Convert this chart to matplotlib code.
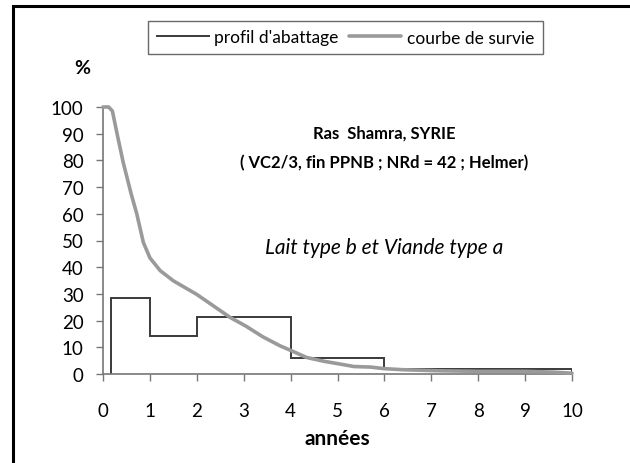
import numpy as np
import matplotlib.pyplot as plt
from matplotlib.patches import Rectangle

plt.rcParams['font.family'] = ['Lato', 'DejaVu Sans']

# profil d'abattage (classes d'âge en années, % par classe)
age_edges = [0.17, 1, 2, 4, 6, 10]
abattage = [28.6, 14.3, 21.4, 6.0, 2.0]

# courbe de survie
survie_x = [0, 0.12, 0.2, 0.3, 0.43, 0.6, 0.72, 0.86, 1.0, 1.22, 1.5, 2.0, 2.71,
            3.06, 3.4, 3.77, 4.02, 4.34, 4.7, 5.03, 5.35, 5.7, 6.0, 6.4, 7.2,
            8.0, 9.0, 9.6, 10]
survie_y = [100, 100, 98.5, 90, 79.3, 67.5, 60, 49.3, 43.5, 38.7, 34.9, 29.8, 21.2,
            17.8, 14.0, 10.6, 8.7, 6.2, 4.8, 3.8, 2.8, 2.6, 2.0, 1.6, 1.2,
            1.0, 1.0, 0.7, 0.3]

xticks = list(range(0, 11))
yticks = list(range(0, 101, 10))

fig = plt.figure(figsize=(6.3, 4.64), dpi=100)
ax = fig.add_axes([103 / 630, 1 - 375 / 464, 469 / 630, 267 / 464])

# histogramme en escalier
ax.stairs(abattage, age_edges, baseline=0, color='#3a3a3a', lw=1.4,
          label="profil d'abattage", zorder=2)
# courbe de survie
ax.plot(survie_x, survie_y, color='#9a9a9a', lw=2.6, solid_capstyle='round',
        label='courbe de survie', zorder=3, clip_on=False)

ax.set_xlim(0, 10)
ax.set_ylim(0, 100)
ax.set_xticks(xticks)
ax.set_yticks(yticks)
ax.tick_params(direction='out', length=5, width=1, color='#777777',
               labelsize=13.5, labelcolor='black')
ax.tick_params(axis='x', pad=15)
ax.tick_params(axis='y', pad=9)
for s in ['top', 'right']:
    ax.spines[s].set_visible(False)
for s in ['left', 'bottom']:
    ax.spines[s].set_color('#777777')
    ax.spines[s].set_linewidth(1.2)

ax.set_xlabel('années', fontsize=15, fontweight='bold', labelpad=7)

# annotations
ax.text(6.0, 90.6, 'Ras  Shamra, SYRIE', ha='center', va='center',
        fontsize=12, fontweight='bold')
ax.text(6.0, 79.4, '( VC2/3, fin PPNB ; NRd = 42 ; Helmer)', ha='center',
        va='center', fontsize=12, fontweight='bold')
ax.text(6.0, 47.6, 'Lait type b et Viande type a', ha='center', va='center',
        fontsize=15, style='italic')

fig.text(82 / 630, 1 - 68 / 464, '%', ha='center', va='center',
         fontsize=14, fontweight='bold')

leg = ax.legend(loc='center', bbox_to_anchor=(345.5 / 630, 1 - 38.5 / 464),
                bbox_transform=fig.transFigure, ncol=2, frameon=True,
                fancybox=False, fontsize=12.5, handlelength=3.0,
                handletextpad=0.3, columnspacing=0.6, borderpad=0.5,
                borderaxespad=0)
leg.get_frame().set_edgecolor('#444444')
leg.get_frame().set_linewidth(1.0)

# cadre extérieur
fig.patches.append(Rectangle((13 / 630, -0.1), 1.2, 1 - 7 / 464 + 0.1,
                             transform=fig.transFigure, fill=False,
                             lw=2.2, ec='black'))

fig.savefig('out.png', dpi=100)
